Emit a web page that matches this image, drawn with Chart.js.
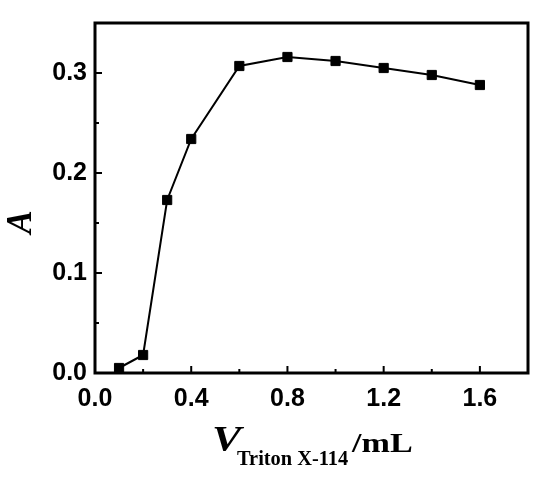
<!DOCTYPE html>
<html>
<head>
<meta charset="utf-8">
<script src="https://cdn.jsdelivr.net/npm/chart.js@4"></script>
<style>
  body { margin: 0; background: #fff; }
  #wrap { width: 550px; height: 479px; }
</style>
</head>
<body>
<div id="wrap"><canvas id="grafico"></canvas></div>
<script>
// datos
const volumenTriton = [0.1, 0.2, 0.3, 0.4, 0.6, 0.8, 1.0, 1.2, 1.4, 1.6];
const absorbancia = [0.005, 0.018, 0.173, 0.234, 0.307, 0.316, 0.312, 0.305, 0.298, 0.288];
const xTicks = [0.0, 0.4, 0.8, 1.2, 1.6];
const yTicks = [0.0, 0.1, 0.2, 0.3];
const xMinor = [0.2, 0.6, 1.0, 1.4];
const yMinor = [0.05, 0.15, 0.25];

const fuenteTicks = { family: "'Liberation Sans', Arial, sans-serif", size: 25, weight: 'bold' };
const serif = "'Liberation Serif', 'Times New Roman', serif";

// texto estirado en horizontal (como en la figura original)
function textoAncho(ctx, txt, x, y, font, sx) {
  ctx.save();
  ctx.font = font;
  ctx.translate(x, y);
  ctx.scale(sx, 1);
  ctx.fillText(txt, 0, 0);
  const w = ctx.measureText(txt).width * sx;
  ctx.restore();
  return w;
}

// marco, marcas hacia dentro y titulos de ejes
const marcoPlugin = {
  id: 'marco',
  afterDraw(chart) {
    const ctx = chart.ctx;
    const a = chart.chartArea;
    const xs = chart.scales.x, ys = chart.scales.y;
    ctx.save();
    ctx.strokeStyle = '#000';
    ctx.lineWidth = 2;
    ctx.beginPath();
    xTicks.forEach(v => { const p = xs.getPixelForValue(v); ctx.moveTo(p, a.bottom); ctx.lineTo(p, a.bottom - 7); });
    xMinor.forEach(v => { const p = xs.getPixelForValue(v); ctx.moveTo(p, a.bottom); ctx.lineTo(p, a.bottom - 4); });
    yTicks.forEach(v => { const p = ys.getPixelForValue(v); ctx.moveTo(a.left, p); ctx.lineTo(a.left + 7, p); });
    yMinor.forEach(v => { const p = ys.getPixelForValue(v); ctx.moveTo(a.left, p); ctx.lineTo(a.left + 4, p); });
    ctx.stroke();
    ctx.lineWidth = 3;
    ctx.strokeRect(a.left, a.top, a.right - a.left, a.bottom - a.top);

    // titulo eje x: V subindice Triton X-114 /mL
    ctx.fillStyle = '#000';
    ctx.textBaseline = 'alphabetic';
    ctx.textAlign = 'left';
    textoAncho(ctx, 'V', 212, 451, 'italic bold 35px ' + serif, 1.25);
    textoAncho(ctx, 'Triton X-114', 237, 465, 'bold 20px ' + serif, 1.02);
    textoAncho(ctx, '/mL', 352, 452, 'bold 28px ' + serif, 1.22);

    // titulo eje y
    ctx.translate(22, 222);
    ctx.rotate(-Math.PI / 2);
    ctx.textAlign = 'center';
    ctx.textBaseline = 'middle';
    ctx.font = 'italic bold 35px ' + serif;
    ctx.fillText('A', 0, 0);
    ctx.restore();
  }
};

new Chart(document.getElementById('grafico'), {
  type: 'line',
  data: {
    datasets: [{
      data: volumenTriton.map((v, i) => ({ x: v, y: absorbancia[i] })),
      borderColor: '#000',
      backgroundColor: '#000',
      borderWidth: 2,
      pointStyle: 'rect',
      pointRadius: 6.5,
      pointBorderWidth: 1,
      tension: 0
    }]
  },
  options: {
    responsive: true,
    maintainAspectRatio: false,
    animation: false,
    layout: { padding: { top: 18, right: 22, left: 0, bottom: 0 } },
    plugins: { legend: { display: false }, tooltip: { enabled: false } },
    scales: {
      x: {
        type: 'linear',
        min: 0,
        max: 1.8,
        afterBuildTicks: s => { s.ticks = xTicks.map(v => ({ value: v })); },
        afterFit: s => { s.height = 106; },
        grid: { display: false, drawTicks: false },
        border: { display: false },
        ticks: { color: '#000', font: fuenteTicks, padding: 11, maxRotation: 0, callback: v => v.toFixed(1) }
      },
      y: {
        type: 'linear',
        min: 0,
        max: 0.35,
        afterBuildTicks: s => { s.ticks = yTicks.map(v => ({ value: v })); },
        afterFit: s => { s.width = 95; },
        grid: { display: false, drawTicks: false },
        border: { display: false },
        ticks: { color: '#000', font: fuenteTicks, padding: 8, callback: v => v.toFixed(1) }
      }
    }
  },
  plugins: [marcoPlugin]
});
</script>
</body>
</html>
